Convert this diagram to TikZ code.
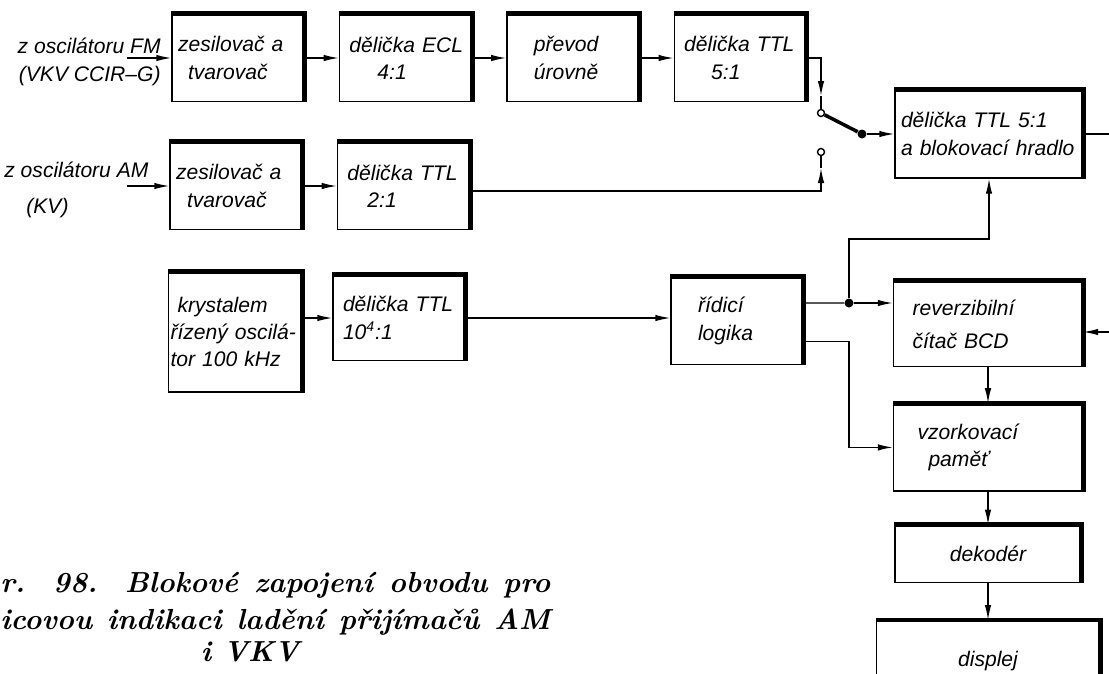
\documentclass[tikz,border=0pt]{standalone}
\usepackage{fontspec}
\setsansfont{Liberation Sans}
\usetikzlibrary{positioning,arrows.meta,calc}
\tikzset{
  >={Latex[length=3mm,width=1.3mm]},
  blk/.style={draw, line width=0.8pt, minimum height=17.4mm, text width=24mm,
              inner xsep=1.2mm, align=left,
              font=\sffamily\itshape\fontsize{12}{15.5}\selectfont},
  wblk/.style={blk, text width=#1},
  lbl/.style={font=\sffamily\itshape\fontsize{12}{15.5}\selectfont, inner sep=0pt},
  capt/.style={font=\rmfamily\bfseries\itshape\fontsize{16.5}{20}\selectfont,
               inner sep=0pt, anchor=west},
  wire/.style={line width=0.8pt},
  flow/.style={wire, ->},
  rim/.style={line width=2.8pt},
  contact/.style={circle, draw, line width=0.8pt, fill=white, inner sep=0pt, minimum size=1.4mm},
  pivot/.style={circle, fill, inner sep=0pt, minimum size=1.8mm},
  blade/.style={line width=2pt},
}

\begin{document}
\begin{tikzpicture}[x=0.2mm, y=-0.2mm, node distance=6.8mm and 6.8mm]
\useasboundingbox (0,0) rectangle (1109,673);

% ------------------------------------------------------------------ FM branch
\node[blk] (zesFM) at (238,58) {zesilovač a\\\hspace*{2mm}tvarovač};
\node[blk, right=of zesFM] (ecl)    {\hspace*{0.8mm}dělička ECL\\\hspace*{6.4mm}4:1};
\node[blk, right=of ecl]   (prevod) {\hspace*{4.2mm}převod\\\hspace*{4.2mm}úrovně};
\node[blk, right=of prevod] (ttl5)  {\hspace*{0.8mm}dělička TTL\\\hspace*{6.2mm}5:1};
\node[lbl, align=right, anchor=east] (fmLbl) at (161,62) {z oscilátoru FM\\(VKV CCIR–G)};
\coordinate (fmIn) at (127,58);
\draw[flow] (fmIn) -- (zesFM);
\draw[flow] (zesFM) -- (ecl);
\draw[flow] (ecl) -- (prevod);
\draw[flow] (prevod) -- (ttl5);

% ------------------------------------------------------------------ AM branch
\node[blk] (zesAM) at (236,186) {zesilovač a\\\hspace*{2.2mm}tvarovač};
\node[blk, right=of zesAM] (ttl2) {\hspace*{0.8mm}dělička TTL\\\hspace*{4.8mm}2:1};
\node[lbl, align=left, anchor=west] (amLbl) at (4,190) {z oscilátoru AM\\[1.6mm]\hspace*{4.4mm}(KV)};
\coordinate (amIn) at (127,186);
\draw[flow] (amIn) -- (zesAM);
\draw[flow] (zesAM) -- (ttl2);

% ------------------------------------------------------------------ switch
\node[contact] (swA) at (821,113) {};
\node[contact] (swB) at (821,152) {};
\node[pivot]   (swP) at (862,134) {};
\coordinate (swAin) at (821,96);
\coordinate (swBin) at (821,168);
\draw[flow] (ttl5) -| (swAin);
\draw[wire] (swAin) -- (swA);
\draw[flow] ([yshift=-1mm]ttl2.east) -| (swBin);
\draw[wire] (swBin) -- (swB);
\draw[blade] (swA) -- (swP);

\node[wblk=35.2mm, minimum height=17.6mm] (hradlo) at (989,134)
  {dělička TTL 5:1\\a blokovací hradlo};
\draw[flow] (swP) -- (hradlo);
\coordinate (hrOut) at (1112,134);
\draw[wire] (hradlo) -- (hrOut);

% ------------------------------------------------------------------ time base
\node[blk, minimum height=24mm, text width=25.8mm, inner xsep=0.4mm] (krystal) at (235,332)
  {\hspace*{1.4mm}krystalem\\řízený oscilá-\\tor 100 kHz};
\node[blk, minimum height=17mm] (ttl10) at (399,318)
  {\hspace*{0.8mm}dělička TTL\\\hspace*{0.8mm}10\textsuperscript{4}:1};
\node[blk] (logika) at (737,321) {\hspace*{4.2mm}řídicí\\\hspace*{4.2mm}logika};
\draw[flow] (krystal.east |- ttl10) -- (ttl10);
\draw[flow] (ttl10) -- (ttl10 -| logika.west);

% ------------------------------------------------------------------ counter and display
\node[wblk=35.4mm, minimum height=17mm] (citac) at (988,324)
  {\hspace*{2.6mm}reverzibilní\\[1.2mm]\hspace*{2.6mm}čítač BCD};
\node[wblk=35.4mm, below=7.2mm of citac] (pamet)
  {\hspace*{3.6mm}vzorkovací\\\hspace*{5.8mm}paměť};
\node[wblk=34.8mm, minimum height=11.4mm, align=center, below=6.6mm of pamet] (dekoder) {dekodér};
\node[wblk=42.2mm, minimum height=16mm, align=center, below=7.4mm of dekoder] (displej) {displej};

\node[pivot] (jn) at (849,303) {};
\coordinate (fbk) at (849,239);
\draw[wire] ([yshift=3.6mm]logika.east) -- (jn);
\draw[flow] (jn) -- (jn -| citac.west);
\draw[flow] (jn) -- (fbk) -| (hradlo);
\draw[flow] ([yshift=-4.1mm]logika.east) -| (jn |- pamet) -- (pamet);
\draw[flow] (citac) -- (pamet);
\draw[flow] (pamet) -- (dekoder);
\draw[flow] (dekoder) -- (displej);
\coordinate (ctIn) at (1112,332);
\draw[flow] (ctIn) -- (ctIn -| citac.east);

% heavy top and right edges of every block
\foreach \n in {zesFM,ecl,prevod,ttl5,zesAM,ttl2,krystal,ttl10,logika,hradlo,citac,pamet,dekoder,displej}
  \draw[rim] (\n.north west) -- (\n.north east) -- (\n.south east);

% ------------------------------------------------------------------ caption
\node[capt] (cap1) at (0,585) {\makebox[110mm][s]{r. 98. Blokové zapojení obvodu pro}};
\node[capt] (cap2) at (0,622) {\makebox[110mm][s]{icovou indikaci ladění přijímačů AM}};
\node[capt, anchor=center] (cap3) at (250,652) {i VKV};

\end{tikzpicture}
\end{document}
